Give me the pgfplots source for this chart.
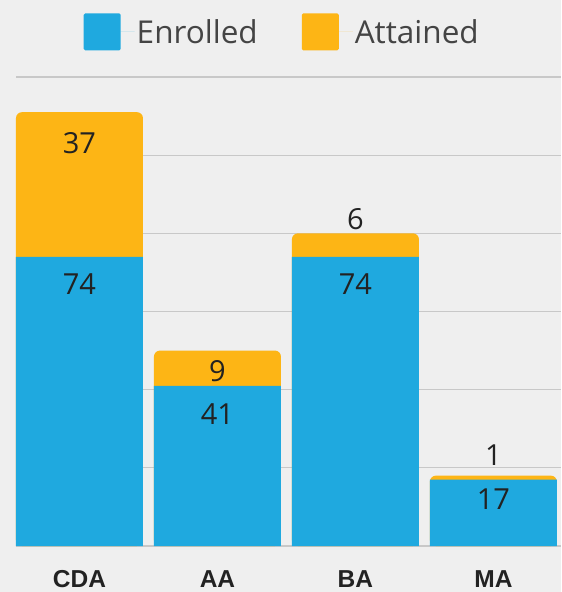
\documentclass[border=0pt]{standalone}
\usepackage{fontspec}
\setmainfont{Open Sans}
\newfontfamily\catfont{Liberation Sans}
\usepackage{pgfplots}
\usepackage{pgfplotstable}
\pgfplotsset{compat=1.18}
\definecolor{bg}{HTML}{EFEFEF}
\definecolor{enr}{HTML}{1FA9DF}
\definecolor{att}{HTML}{FDB515}
\definecolor{gridc}{HTML}{C8C8C8}
\definecolor{txt}{HTML}{222222}
\definecolor{legtxt}{HTML}{444444}

\pgfplotstableread{
x e a de da
0 74 37 -27 -31
1 41 9 -28 -21
2 74 6 -27 14
3 17 1 -20 21
}\data

\begin{document}
\begin{tikzpicture}[x=1pt,y=1pt]
\fill[bg] (-16,-46) rectangle (545,546);
\begin{axis}[at={(0,0)}, anchor=south west, scale only axis,
  width=545pt, height=469pt,
  xmin=-0.46, xmax=3.49, ymin=0, ymax=120,
  axis line style={draw=none},
  major tick length=0pt,
  ytick={0,20,...,120}, yticklabels={},
  ymajorgrids, grid style={gridc, line width=1.2pt},
  xtick={0,1,2,3}, xticklabels={CDA,AA,BA,MA},
  xticklabel style={font=\catfont\bfseries\fontsize{24.5}{30}\selectfont, text=txt, anchor=center, yshift=-33pt},
  /pgf/number format/assume math mode=true,
  clip=false,
  legend columns=2,
  legend style={at={(axis description cs:0.4885,1.096)}, anchor=center, draw=none, fill=none,
    font=\fontsize{31.5}{36}\selectfont, text=legtxt,
    /tikz/every even column/.append style={column sep=42pt}, cells={anchor=west}},
  legend image code/.code={\fill[#1, rounded corners=1.5pt] (0pt,-18.5pt) rectangle (37pt,18.5pt); \path (37pt,0pt) -- (51pt,0pt);},
]
\addlegendimage{fill=enr, draw=none}
\addlegendentry{Enrolled}
\addlegendimage{fill=att, draw=none}
\addlegendentry{Attained}

\addplot[ybar, bar width=127pt, bar shift=0pt, fill=att, draw=none, rounded corners=6pt, forget plot,
  nodes near coords, point meta=\thisrow{a},
  visualization depends on={\thisrow{da} \as \dy},
  every node near coord/.append style={anchor=center, yshift=\dy, font=\fontsize{29}{32}\selectfont, text=txt, rounded corners=0pt}]
  table[x=x, y expr=\thisrow{e}+\thisrow{a}] {\data};
\addplot[ybar, bar width=127pt, bar shift=0pt, fill=enr, draw=none, forget plot,
  nodes near coords, point meta=\thisrow{e},
  visualization depends on={\thisrow{de} \as \dy},
  every node near coord/.append style={anchor=center, yshift=\dy, font=\fontsize{29}{32}\selectfont, text=txt}]
  table[x=x, y=e] {\data};
\end{axis}
\end{tikzpicture}
\end{document}
